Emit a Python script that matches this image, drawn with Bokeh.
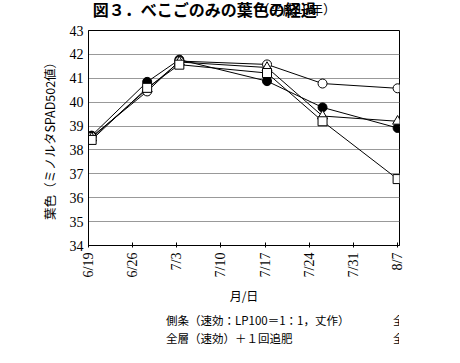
from bokeh.plotting import figure
from bokeh.models import (FixedTicker, Legend, LegendItem, Range1d)
from bokeh.layouts import column
from bokeh.core.properties import value
from bokeh.embed import file_html
from bokeh.resources import INLINE

# days after 6/19
days = [0.5, 9.3, 14.4, 28.3, 37.1, 49.0]
tick_days = [0, 7, 14, 21, 28, 35, 42, 49]
tick_labels = ["6/19", "6/26", "7/3", "7/10", "7/17", "7/24", "7/31", "8/7"]

side_lp = [38.6, 40.85, 41.78, 40.88, 39.78, 38.92]
zen_2 = [38.55, 40.45, 41.72, 41.58, 40.78, 40.58]
zen_1 = [38.5, 40.55, 41.68, 41.45, 39.42, 39.2]
zen = [38.42, 40.6, 41.57, 41.22, 39.2, 36.78]

names = ["側条（速効：LP100＝1：1，丈作）", "全層（速効）＋２回追肥",
         "全層（速効）＋１回追肥", "全層（速効）"]
title_main = "図３．べこごのみの葉色の経過"
title_sub = "（平成19年）"

JP = "Noto Sans CJK JP"
SERIF = "Liberation Serif"

# ---------- title strip ----------
tf = figure(width=444, height=22, output_backend="svg", toolbar_location=None,
            x_range=Range1d(0, 444), y_range=Range1d(0, 22),
            x_axis_location=None, y_axis_location=None,
            min_border=0, outline_line_color=None)
tf.grid.visible = False
tf.text(x=[6], y=[14], text=[title_main], text_font=value(JP),
        text_font_style="bold", text_font_size="16px", text_baseline="middle",
        text_color="black")
tf.text(x=[240], y=[14], text=[title_sub], text_font=value(JP),
        text_font_size="13px", text_baseline="middle", text_color="black")

# ---------- main chart ----------
p = figure(frame_width=311, frame_height=215, output_backend="svg",
           toolbar_location=None,
           x_range=Range1d(0, 49.3), y_range=Range1d(34, 43),
           min_border_left=88, min_border_right=45, min_border_top=8,
           min_border_bottom=0)
p.background_fill_color = "white"
p.border_fill_color = "white"
p.outline_line_color = "black"
p.outline_line_width = 1

p.xgrid.visible = False
p.ygrid.grid_line_color = "#999999"
p.ygrid.grid_line_width = 1

p.xaxis.ticker = FixedTicker(ticks=tick_days)
p.xaxis.major_label_overrides = {d: l for d, l in zip(tick_days, tick_labels)}
p.xaxis.major_label_orientation = 1.5708
p.xaxis.minor_tick_line_color = None
p.xaxis.major_tick_in = 3
p.xaxis.major_tick_out = 2
p.xaxis.axis_label = "月/日"
p.xaxis.axis_label_text_font = JP
p.xaxis.axis_label_text_font_style = "normal"
p.xaxis.axis_label_text_font_size = "12px"
p.xaxis.axis_label_standoff = 7

p.yaxis.ticker = FixedTicker(ticks=list(range(34, 44)))
p.yaxis.minor_tick_line_color = None
p.yaxis.major_tick_in = 0
p.yaxis.major_tick_out = 0
p.yaxis.axis_label = "葉色（ミノルタSPAD502値）"
p.yaxis.axis_label_text_font = JP
p.yaxis.axis_label_text_font_style = "normal"
p.yaxis.axis_label_text_font_size = "12.5px"
p.yaxis.axis_label_standoff = 8

for ax in (p.xaxis, p.yaxis):
    ax.axis_line_color = "black"
    ax.major_tick_line_color = "black"
    ax.major_label_text_font = SERIF
    ax.major_label_text_font_size = "14px"
    ax.major_label_text_color = "black"
    ax.axis_label_text_color = "black"

styles = {"side": ("circle", "black", names[0]),
          "z2": ("circle", "white", names[1]),
          "z1": ("triangle", "white", names[2]),
          "z0": ("square", "white", names[3])}
data = {"side": side_lp, "z2": zen_2, "z1": zen_1, "z0": zen}

for key, (mk, fill, name) in styles.items():
    vals = data[key]
    p.line(days, vals, line_color="black", line_width=1)
    size = 9 if mk != "triangle" else 10
    p.scatter(days, vals, marker=mk, size=size, fill_color=fill,
              line_color="black", line_width=1)

# ---------- legend strip ----------
lf = figure(width=444, height=42, output_backend="svg", toolbar_location=None,
            x_range=Range1d(0, 1), y_range=Range1d(0, 1),
            x_axis_location=None, y_axis_location=None,
            min_border=0, outline_line_color=None)
lf.grid.visible = False
items = {}
for key, (mk, fill, name) in styles.items():
    size = 9 if mk != "triangle" else 10
    ln = lf.line(x=[], y=[], line_color="black", line_width=1)
    sc = lf.scatter(x=[], y=[], marker=mk, size=size, fill_color=fill,
                    line_color="black", line_width=1)
    items[key] = LegendItem(label=name, renderers=[ln, sc])

legend = Legend(items=[items["side"], items["z1"], items["z2"], items["z0"]],
                ncols=2, location=(42, 3),
                label_text_font=JP, label_text_font_size="11.5px",
                label_text_color="black",
                glyph_width=30, glyph_height=13, spacing=2, padding=0,
                margin=0, label_standoff=6, label_height=13, label_width=189,
                border_line_color=None, background_fill_alpha=0)
lf.add_layout(legend, "center")

open("out.html", "w").write(file_html(column(tf, p, lf, spacing=0), INLINE))
